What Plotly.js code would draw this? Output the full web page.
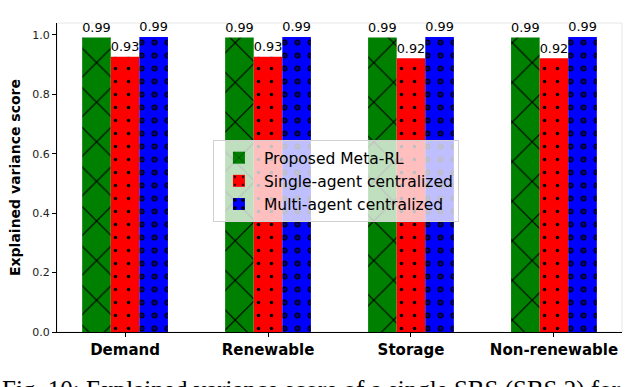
<!DOCTYPE html>
<html>
<head>
<meta charset="utf-8">
<script src="https://cdn.plot.ly/plotly-3.0.1.min.js"></script>
<style>
  html, body { margin: 0; padding: 0; background: #fff; }
  #chart { width: 640px; height: 387px; }
</style>
</head>
<body>
<div id="chart"></div>
<script>
var categories = ['Demand', 'Renewable', 'Storage', 'Non-renewable'];
var metaRL = [0.991, 0.991, 0.991, 0.991];
var singleAgent = [0.926, 0.926, 0.921, 0.921];
var multiAgent = [0.993, 0.993, 0.993, 0.993];
var seriesNames = ['Proposed Meta-RL', 'Single-agent centralized', 'Multi-agent centralized'];
var yTicks = [0, 0.2, 0.4, 0.6, 0.8, 1.0];

var xs = [0, 1, 2, 3];
var w = 0.2;

function barTrace(vals, name, color, pattern, offset, withText) {
    return {
        type: 'bar',
        x: xs,
        y: vals,
        name: name,
        width: w,
        offset: offset,
        marker: {
            color: color,
            line: {width: 0},
            pattern: pattern
        },
        text: withText ? vals.map(function(v) { return v.toFixed(2); }) : undefined,
        textposition: withText ? 'outside' : 'none',
        textfont: {family: 'DejaVu Sans', size: 13.5, color: '#000'},
        cliponaxis: false,
        hoverinfo: 'none'
    };
}

var data = [
    barTrace(metaRL, seriesNames[0], 'green',
        {shape: 'x', fgcolor: '#000', bgcolor: 'green', size: 28, solidity: 0.08, fillmode: 'replace'}, -0.3, true),
    barTrace(singleAgent, seriesNames[1], 'red',
        {shape: '.', fgcolor: '#000', bgcolor: 'red', size: 13, solidity: 0.06, fillmode: 'replace'}, -0.1, true),
    barTrace(multiAgent, seriesNames[2], 'blue',
        {shape: '.', fgcolor: '#000', bgcolor: 'blue', size: 13, solidity: 0.17, fillmode: 'replace'}, 0.1, true)
];
// hollow out the blue dots so they look like rings
var ring = barTrace(multiAgent, 'ring', 'rgba(0,0,0,0)',
    {shape: '.', fgcolor: 'blue', bgcolor: 'rgba(0,0,0,0)', size: 13, solidity: 0.07, fillmode: 'overlay'}, 0.1, false);
ring.showlegend = false;
data.push(ring);

var layout = {
    width: 640,
    height: 387,
    margin: {l: 57, r: 18, t: 23, b: 55},
    paper_bgcolor: '#fff',
    plot_bgcolor: '#fff',
    barmode: 'overlay',
    font: {family: 'DejaVu Sans', color: '#000'},
    xaxis: {
        range: [-0.476, 3.476],
        tickmode: 'array',
        tickvals: xs,
        ticktext: categories.map(function(c) { return '<b>' + c + '</b>'; }),
        tickfont: {size: 15, color: '#000'},
        ticks: 'outside',
        ticklen: 4,
        tickcolor: '#000',
        showgrid: false,
        zeroline: false,
        showline: true,
        linecolor: '#000',
        linewidth: 1
    },
    yaxis: {
        range: [0, 1.04],
        tickmode: 'array',
        tickvals: yTicks,
        ticktext: yTicks.map(function(v) { return v.toFixed(1); }),
        tickfont: {size: 11, color: '#222'},
        ticks: 'outside',
        ticklen: 4,
        tickcolor: '#000',
        showgrid: false,
        zeroline: false,
        showline: true,
        linecolor: '#000',
        linewidth: 1,
        title: {text: '<b>Explained variance score</b>', font: {size: 14, color: '#000'}, standoff: 8}
    },
    legend: {
        x: 0.276,
        y: 0.621,
        xanchor: 'left',
        yanchor: 'top',
        bgcolor: 'rgba(255,255,255,0.75)',
        bordercolor: '#d0d0d0',
        borderwidth: 1,
        font: {size: 15.5, color: '#000'},
        tracegroupgap: 0,
        itemwidth: 40
    },
    shapes: [{
        type: 'rect', xref: 'paper', yref: 'paper',
        x0: 0, x1: 1, y0: 0, y1: 1,
        line: {color: '#e6e6e6', width: 1},
        layer: 'below'
    }],
    annotations: [{
        xref: 'paper', yref: 'paper',
        x: -57 / 565, y: -0.136,
        xanchor: 'left', yanchor: 'top',
        text: 'Fig. 10: Explained variance score of a single SBS (SBS 2) for',
        showarrow: false,
        font: {family: 'Liberation Serif', size: 25, color: '#000'}
    }]
};

Plotly.newPlot('chart', data, layout, {displayModeBar: false, staticPlot: true});
</script>
</body>
</html>
